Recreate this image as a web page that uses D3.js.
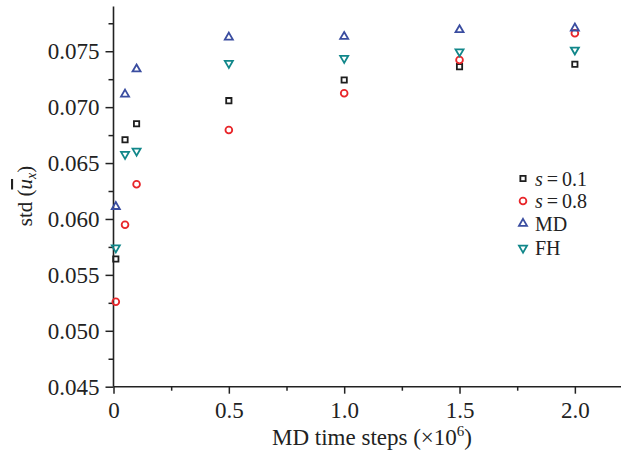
<!DOCTYPE html>
<html><head><meta charset="utf-8">
<script src="https://cdn.jsdelivr.net/npm/d3@7"></script>
<style>body{margin:0;background:#fff}svg{display:block}text{font-family:"Liberation Serif","Times New Roman",serif;fill:#222}</style>
</head><body><div id="chart"></div>
<script>
const steps = [0.01, 0.05, 0.1, 0.5, 1.0, 1.5, 2.0];
const s01 = [0.05642, 0.06709, 0.06852, 0.07058, 0.07243, 0.07362, 0.07384];
const s08 = [0.0526, 0.05949, 0.0631, 0.06796, 0.07124, 0.07422, 0.07661];
const md  = [0.0611, 0.07115, 0.0734, 0.07625, 0.07631, 0.07691, 0.07706];
const fh  = [0.05743, 0.06579, 0.06608, 0.07393, 0.07437, 0.07496, 0.07512];
const xTicks = [0, 0.5, 1.0, 1.5, 2.0];
const xMinor = [0.25, 0.75, 1.25, 1.75];
const yTicks = [0.045, 0.050, 0.055, 0.060, 0.065, 0.070, 0.075];
const yMinor = [0.0475, 0.0525, 0.0575, 0.0625, 0.0675, 0.0725, 0.0775];
const seriesNames = ["s=0.1", "s=0.8", "MD", "FH"];

const W = 625, H = 455;
const svg = d3.select("#chart").append("svg").attr("width", W).attr("height", H);
const x = d3.scaleLinear().domain([0, 2.2]).range([113.5, 621]);
const y = d3.scaleLinear().domain([0.045, 0.079]).range([386.7, 6.5]);
const ink = "#222";

const series = [
  {name: seriesNames[0], vals: s01, color: "#1e1e1e", type: d3.symbolSquare, size: 28, rot: 0},
  {name: seriesNames[1], vals: s08, color: "#e8262a", type: d3.symbolCircle, size: 36, rot: 0},
  {name: seriesNames[2], vals: md,  color: "#3a4da0", type: d3.symbolTriangle, size: 28, rot: 0},
  {name: seriesNames[3], vals: fh,  color: "#11878a", type: d3.symbolTriangle, size: 28, rot: 180}
];

// axes
const xAxis = svg.append("g").attr("transform", `translate(0,${y(0.045)})`)
  .call(d3.axisBottom(x).tickValues(xTicks).tickSize(7).tickPadding(8).tickFormat(d => d === 0 ? "0" : d3.format(".1f")(d)));
const xAxisMinor = svg.append("g").attr("transform", `translate(0,${y(0.045)})`)
  .call(d3.axisBottom(x).tickValues(xMinor).tickSize(4).tickFormat(""));
const yAxis = svg.append("g").attr("transform", `translate(${x(0)},0)`)
  .call(d3.axisLeft(y).tickValues(yTicks).tickSize(8).tickPadding(6).tickFormat(d3.format(".3f")));
const yAxisMinor = svg.append("g").attr("transform", `translate(${x(0)},0)`)
  .call(d3.axisLeft(y).tickValues(yMinor).tickSize(5).tickFormat(""));
[xAxis, xAxisMinor, yAxis, yAxisMinor].forEach(g => {
  g.attr("font-family", '"Liberation Serif",serif');
  g.selectAll(".domain").attr("stroke", ink).attr("stroke-width", 1.6);
  g.selectAll(".tick line").attr("stroke", ink).attr("stroke-width", 1.5);
  g.selectAll("text").attr("font-size", 23).attr("fill", ink).style("font-family", '"Liberation Serif",serif');
});
xAxisMinor.select(".domain").remove();
yAxisMinor.select(".domain").remove();
xAxis.select(".domain").attr("d", `M${x(0)},0H${x(2.2)}`);
yAxis.select(".domain").attr("d", `M0,${y(0.079)}V${y(0.045)}`);

// titles
svg.append("text").attr("x", 372).attr("y", 445).attr("text-anchor", "middle").attr("font-size", 23)
  .html('MD time steps (×10<tspan dy="-9" font-size="15">6</tspan><tspan dy="9">)</tspan>');
const yl = svg.append("text").attr("transform", "translate(32,196) rotate(-90)").attr("text-anchor", "middle").attr("font-size", 21);
yl.append("tspan").text("std (");
yl.append("tspan").attr("font-style", "italic").attr("text-decoration", "overline").text("u");
yl.append("tspan").attr("font-style", "italic").attr("font-size", 14).attr("dy", 4).text("x");
yl.append("tspan").attr("dy", -4).text(")");

// points
series.forEach(s => {
  const sym = d3.symbol().type(s.type).size(s.size);
  svg.append("g").selectAll("path").data(s.vals).join("path")
    .attr("d", sym)
    .attr("transform", (d, i) => `translate(${x(steps[i])},${y(d)}) rotate(${s.rot})`)
    .attr("fill", "none").attr("stroke", s.color).attr("stroke-width", 1.8);
});

// legend
const leg = svg.append("g");
const rows = [178.5, 201, 223.5, 248];
series.forEach((s, i) => {
  const sym = d3.symbol().type(s.type).size(s.size);
  leg.append("path").attr("d", sym)
    .attr("transform", `translate(523,${rows[i]}) rotate(${s.rot})`)
    .attr("fill", "none").attr("stroke", s.color).attr("stroke-width", 1.8);
  const t = leg.append("text").attr("x", 535).attr("y", rows[i] + 7).attr("font-size", 20);
  if (i < 2) {
    const parts = s.name.split("=");
    t.append("tspan").attr("font-style", "italic").text(parts[0]);
    t.append("tspan").text("\u2009=\u2009" + parts[1]);
  } else {
    t.text(s.name);
  }
});
</script></body></html>
